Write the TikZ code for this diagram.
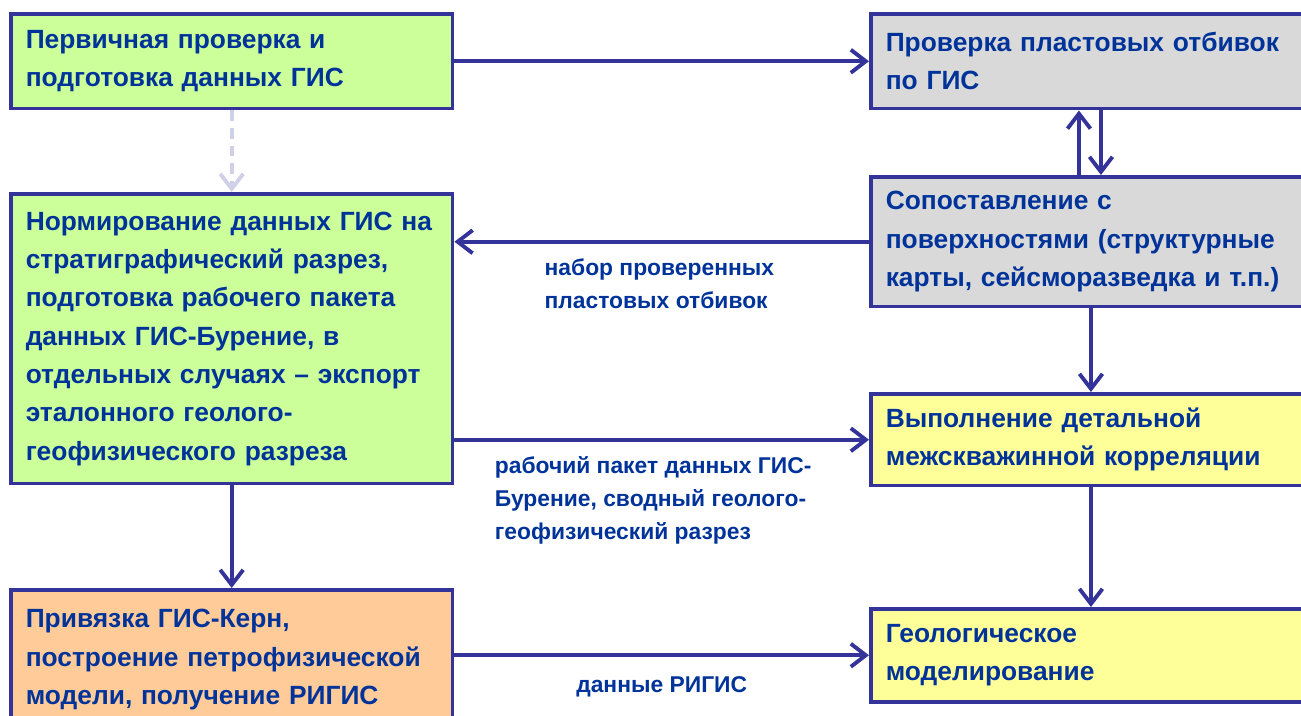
\documentclass[tikz,border=0pt]{standalone}
\usepackage{fontspec}
\setmainfont{Liberation Sans}
\usetikzlibrary{arrows.meta,positioning}
\definecolor{frameblue}{HTML}{333399}
\definecolor{inkblue}{HTML}{003399}
\definecolor{palegreen}{HTML}{CCFF99}
\definecolor{palegrey}{HTML}{D9D9D9}
\definecolor{paleyellow}{HTML}{FFFF99}
\definecolor{paleorange}{HTML}{FFCC99}
\definecolor{dashlav}{HTML}{D0D0E8}

\begin{document}
\begin{tikzpicture}[x=0.02cm,y=-0.02cm,>={Straight Barb[length=3mm,width=4.6mm]},
 box/.style={draw=frameblue,line width=2pt,anchor=north west,align=left,
  inner xsep=0.3cm,text width=8.24cm,minimum width=8.84cm,text=inkblue,
  font=\fontsize{15}{21.8}\selectfont\bfseries},
 wide/.style={box,minimum width=9.6cm,text width=9cm},
 link/.style={->,draw=frameblue,line width=2.2pt},
 lbl/.style={text=inkblue,align=left,inner sep=0pt,font=\fontsize{13}{18.6}\selectfont\bfseries}]
\useasboundingbox (0,0) rectangle (1301,716);
\clip (0,0) rectangle (1301,716);
% left column
\node[box,fill=palegreen,minimum height=1.9cm] (first) at (9,12) {Первичная проверка и\\подготовка данных ГИС};
\node[box,fill=palegreen,minimum height=5.8cm] (norm) at (9,192) {Нормирование данных ГИС на\\стратиграфический разрез,\\подготовка рабочего пакета\\данных ГИС-Бурение, в\\отдельных случаях -- экспорт\\эталонного геолого-\\геофизического разреза};
\node[box,fill=paleorange,minimum height=2.8cm] (core) at (9,588) {Привязка ГИС-Керн,\\построение петрофизической\\модели, получение РИГИС};
% right column
\node[wide,fill=palegrey,minimum height=1.9cm] (check) at (869,12) {Проверка пластовых отбивок\\по ГИС};
\node[wide,fill=palegrey,minimum height=2.6cm] (match) at (869,175) {Сопоставление с\\поверхностями (структурные\\карты, сейсморазведка и т.п.)};
\node[wide,fill=paleyellow,minimum height=1.84cm] (corr) at (869,392) {Выполнение детальной\\межскважинной корреляции};
\node[wide,fill=paleyellow,minimum height=1.86cm] (model) at (869,607) {Геологическое\\моделирование};
% arrows
\draw[link] (first)--(check.west|-first);
\draw[->,draw=dashlav,line width=2.2pt,dash pattern=on 6pt off 4pt] (first)--(norm);
\draw[link] ([xshift=4.2cm]match.north west)--([xshift=4.2cm]check.south west);
\draw[link] ([xshift=4.64cm]check.south west)--([xshift=4.64cm]match.north west);
\draw[link] (match.west)--node[lbl,pos=.775,anchor=north west,xshift=-0.1cm,yshift=-0.3cm]{набор проверенных\\пластовых отбивок}(match.west-|norm.east);
\draw[link] (norm.east|-corr.west)--node[lbl,pos=.105,anchor=north west,xshift=-0.1cm,yshift=-0.3cm]{рабочий пакет данных ГИС-\\Бурение, сводный геолого-\\геофизический разрез}(corr.west);
\draw[link] ([xshift=4.44cm]match.south west)--([xshift=4.44cm]corr.north west);
\draw[link] ([xshift=4.44cm]corr.south west)--([xshift=4.44cm]model.north west);
\draw[link] (norm)--(core);
\draw[link] (core.east|-model.west)--node[lbl,below=0.38cm]{данные РИГИС}(model.west);
\end{tikzpicture}
\end{document}
